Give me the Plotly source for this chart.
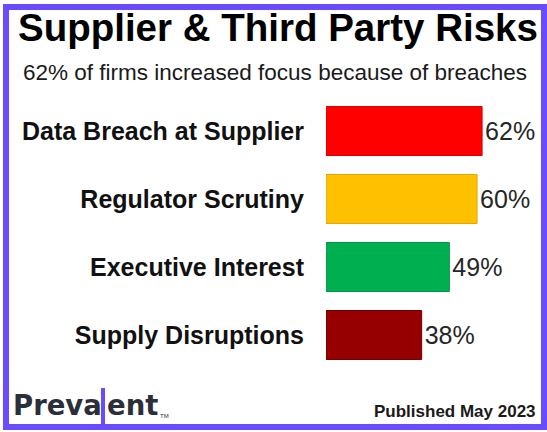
import plotly.graph_objects as go

CATEGORIES = ["Data Breach at Supplier", "Regulator Scrutiny", "Executive Interest", "Supply Disruptions"]
VALUES = [62, 60, 49, 38]
BAR_COLORS = ["#FF0000", "#FFC000", "#00B050", "#960000"]
EDGE_COLORS = ["#D40000", "#E0A800", "#00964A", "#6E0000"]

TITLE = "Supplier & Third Party Risks"
SUBTITLE = "62% of firms increased focus because of breaches"
FOOTNOTE = "Published May 2023"

FONT = "Liberation Sans, Arial, sans-serif"
LOGO_FONT = "DejaVu Sans, Liberation Sans, sans-serif"
PURPLE = "#6A4BFF"

W, H = 547, 432
L, R, T, B = 326, 7, 97, 63
PW, PH = W - L - R, H - T - B


def px(x):
    """pixel x -> paper x"""
    return (x - L) / PW


def py(y):
    """pixel y (from top) -> paper y"""
    return 1 - (y - T) / PH


fig = go.Figure()

fig.add_trace(go.Bar(
    x=VALUES,
    y=CATEGORIES,
    orientation="h",
    marker={"color": BAR_COLORS, "line": {"color": EDGE_COLORS, "width": 1}},
    text=[f"{v}%" for v in VALUES],
    textposition="outside",
    textfont={"size": 25, "color": "#262626", "family": FONT},
    cliponaxis=False,
    hoverinfo="skip",
))

fig.update_layout(
    width=W,
    height=H,
    margin={"l": L, "r": R, "t": T, "b": B, "autoexpand": False},
    paper_bgcolor="white",
    plot_bgcolor="white",
    bargap=0.28,
    showlegend=False,
    font={"family": FONT},
    xaxis=dict(range=[0, 85], visible=False, fixedrange=True),
    yaxis=dict(
        autorange="reversed",
        showgrid=False,
        showline=False,
        zeroline=False,
        ticks="",
        ticklabelstandoff=21,
        tickfont={"size": 25, "color": "#111111", "family": FONT, "weight": "bold"},
        fixedrange=True,
    ),
)

# title + subtitle
fig.add_annotation(text="<b>" + TITLE + "</b>", x=px(16), y=py(27), xref="paper", yref="paper",
                   xanchor="left", yanchor="middle", showarrow=False,
                   font={"size": 38.5, "color": "#000000", "family": FONT})
fig.add_annotation(text=SUBTITLE, x=px(21), y=py(72), xref="paper", yref="paper",
                   xanchor="left", yanchor="middle", showarrow=False,
                   font={"size": 22.5, "color": "#1a1a1a", "family": FONT})

# footer
fig.add_annotation(text="<b>" + FOOTNOTE + "</b>", x=px(538), y=py(411), xref="paper", yref="paper",
                   xanchor="right", yanchor="middle", showarrow=False,
                   font={"size": 17, "color": "#1a1a1a", "family": FONT})

# logo: "Preva" | "ent"
fig.add_annotation(text="<b>Preva</b>", x=px(11), y=py(405), xref="paper", yref="paper",
                   xanchor="left", yanchor="middle", showarrow=False,
                   font={"size": 27.5, "color": "#2B2F3A", "family": LOGO_FONT})
fig.add_annotation(text="<b>ent</b>", x=px(105), y=py(405), xref="paper", yref="paper",
                   xanchor="left", yanchor="middle", showarrow=False,
                   font={"size": 27.5, "color": "#2B2F3A", "family": LOGO_FONT})
fig.add_annotation(text="TM", x=px(158), y=py(416), xref="paper", yref="paper",
                   xanchor="left", yanchor="middle", showarrow=False,
                   font={"size": 6, "color": "#2B2F3A", "family": FONT})
fig.add_shape(type="rect", xref="paper", yref="paper",
              x0=px(101), x1=px(105), y0=py(424), y1=py(388),
              fillcolor=PURPLE, line={"width": 0})

# purple frame
fig.add_shape(type="rect", xref="paper", yref="paper",
              x0=px(6), x1=px(544), y0=py(427), y1=py(7),
              line={"color": PURPLE, "width": 6}, fillcolor="rgba(0,0,0,0)")

fig.write_html("out.html", config={"displayModeBar": False},
               post_script="document.body.style.margin='0';document.body.style.overflow='hidden';")
